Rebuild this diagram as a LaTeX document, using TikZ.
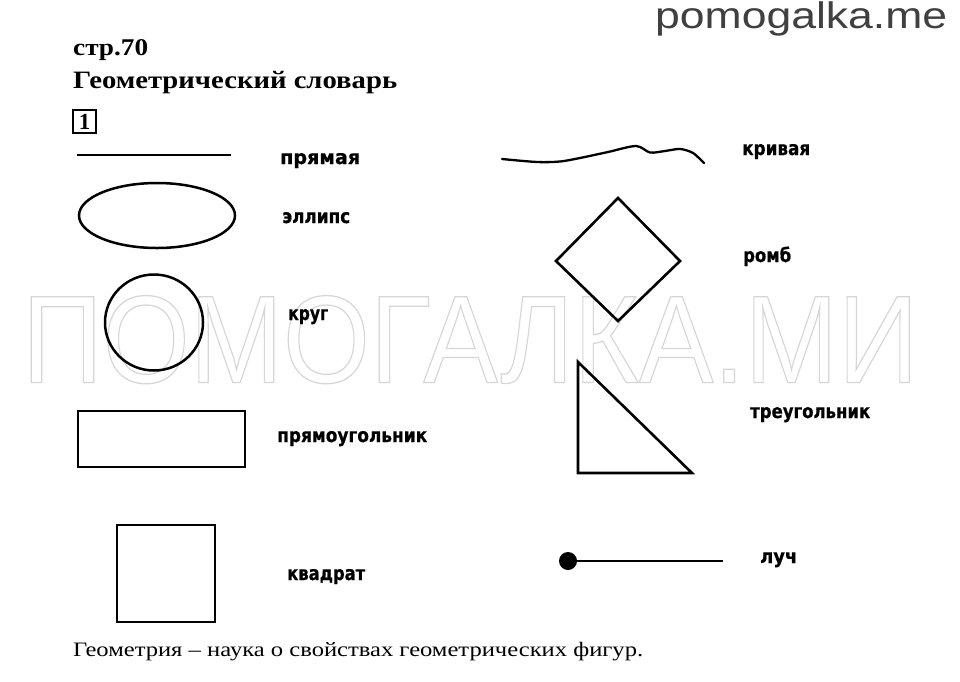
\documentclass[tikz,border=0pt]{standalone}
\usepackage{fontspec}
\usepackage{graphicx}
\setmainfont{Liberation Serif}
\newfontfamily\lblfont[BoldFeatures={FakeBold=0.8}]{DejaVu Sans}
\newfontfamily\wmfont{Liberation Sans}
\newcommand{\fitw}[2]{\resizebox{#1}{\height}{#2}}
\newcommand{\lbltext}[2]{\fitw{#1}{\lblfont\bfseries\fontsize{19.5}{22}\selectfont #2}}
\begin{document}
\begin{tikzpicture}[x=1pt,y=-1pt,
  fig/.style={line width=2.6pt, draw=black},
  lbl/.style={anchor=base west, inner sep=0pt},
  txt/.style={anchor=base west, inner sep=0pt}]
\useasboundingbox (0,0) rectangle (960,681);
\fill[white] (0,0) rectangle (960,681);

% watermark
\node[anchor=south west, inner sep=0pt] (wm) at (22,384)
  {\color{black!16}\resizebox{896pt}{87pt}{\wmfont\fontsize{120}{120}\selectfont\special{pdf:literal direct 1 Tr 1.2 w}ПОМОГАЛКА.МИ\special{pdf:literal direct 0 Tr}}};

\node[txt] (site) at (655,28)
  {\color{black!75}\fitw{292pt}{\wmfont\fontsize{37}{40}\selectfont pomogalka.me}};

% headings
\node[txt] (page) at (73,55) {\fitw{75pt}{\fontsize{24}{28}\selectfont\bfseries стр.70}};
\node[txt] (title) at (73,88) {\fitw{324pt}{\fontsize{25}{29}\selectfont\bfseries Геометрический словарь}};
\node[draw, line width=1.8pt, minimum width=23pt, minimum height=23pt, inner sep=0pt,
      font=\bfseries\fontsize{23}{23}\selectfont] (num) at (84.5,121.5) {1};

% left column shapes
\draw[fig] (77,155) -- (231,155);
\draw[fig, line width=2.5pt] (157,215.5) ellipse [x radius=78pt, y radius=32.5pt];
\draw[fig, line width=2.5pt] (154,322.5) ellipse [x radius=49pt, y radius=48pt];
\draw[fig, line width=2.8pt] (78,411) rectangle (245,467);
\draw[fig, line width=2.8pt] (117,525) rectangle (215,622);

% right column shapes
\draw[line width=2.3pt, line cap=round, line join=round]
  plot[smooth, tension=0.5] coordinates {(502,159) (537,162) (560,161.5) (580,158) (608,152) (636,146) (650,152.5) (665,151) (680,149) (693,153) (704,163)};
\draw[fig, line join=miter] (618,198) -- (680,261) -- (618,321) -- (556,261) -- cycle;
\draw[fig, line join=miter] (578,362) -- (578,473) -- (692,473) -- cycle;
\node[circle, fill=black, inner sep=0pt, minimum size=18pt] (dot) at (568,561) {};
\coordinate (rayend) at (723,561);
\draw[line width=2.5pt] (dot.center) -- (rayend);

% labels
\node[lbl] (l1) at (280,164) {\lbltext{80pt}{прямая}};
\node[lbl] (l2) at (282,223) {\lbltext{68pt}{эллипс}};
\node[lbl] (l3) at (288,320) {\lbltext{40pt}{круг}};
\node[lbl] (l4) at (277,442) {\lbltext{150pt}{прямоугольник}};
\node[lbl] (l5) at (287,580) {\lbltext{78pt}{квадрат}};
\node[lbl] (r1) at (742,155) {\lbltext{68pt}{кривая}};
\node[lbl] (r2) at (743,262) {\lbltext{48pt}{ромб}};
\node[lbl] (r3) at (750,418) {\lbltext{120pt}{треугольник}};
\node[lbl] (r4) at (760,563) {\lbltext{37pt}{луч}};

% definition
\node[txt] (def) at (73,656) {\fitw{570pt}{\fontsize{20.5}{24}\selectfont Геометрия – наука о свойствах геометрических фигур.}};
\end{tikzpicture}
\end{document}
